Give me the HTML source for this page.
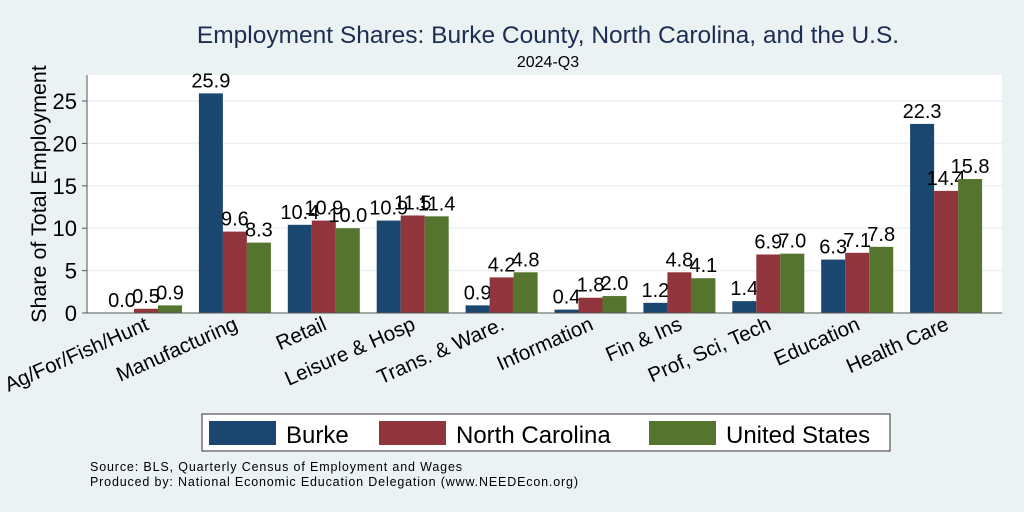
<!DOCTYPE html>
<html><head><meta charset="utf-8"><style>body{margin:0;background:#eaf2f3}svg{display:block;font-family:"Liberation Sans",sans-serif}</style></head>
<body>
<svg width="1024" height="512">
<rect width="1024" height="512" fill="#eaf2f3"/>
<rect x="87" y="75" width="915" height="238" fill="#fff"/>
<text x="548" y="43" text-anchor="middle" font-size="24.5" fill="#1e2d53">Employment Shares: Burke County, North Carolina, and the U.S.</text>
<text x="548" y="67" text-anchor="middle" font-size="16" fill="#000">2024-Q3</text>
<text transform="translate(46,194) rotate(-90)" text-anchor="middle" font-size="21.5">Share of Total Employment</text>
<g id="g"></g>
<g>
<rect x="202" y="414" width="688" height="37" fill="#fff" stroke="#333" stroke-width="1"/>
<rect x="209" y="421" width="67" height="24" fill="#1a476f"/>
<text x="286" y="443" font-size="24">Burke</text>
<rect x="379" y="421" width="67" height="24" fill="#90353b"/>
<text x="456" y="443" font-size="24">North Carolina</text>
<rect x="649" y="421" width="67" height="24" fill="#55752f"/>
<text x="726" y="443" font-size="24">United States</text>
</g>
<text x="90" y="471" font-size="12.5" textLength="372">Source: BLS, Quarterly Census of Employment and Wages</text>
<text x="90" y="486" font-size="12.5" textLength="488">Produced by: National Economic Education Delegation (www.NEEDEcon.org)</text>
</svg>
<script>
const categories=["Ag/For/Fish/Hunt","Manufacturing","Retail","Leisure & Hosp","Trans. & Ware.","Information","Fin & Ins","Prof, Sci, Tech","Education","Health Care"];
const burke=[0.0,25.9,10.4,10.9,0.9,0.4,1.2,1.4,6.3,22.3];
const nc=[0.5,9.6,10.9,11.5,4.2,1.8,4.8,6.9,7.1,14.4];
const us=[0.9,8.3,10.0,11.4,4.8,2.0,4.1,7.0,7.8,15.8];
const yTicks=[0,5,10,15,20,25];
const ns="http://www.w3.org/2000/svg";
const g=document.getElementById('g');
const y=v=>313-v*8.48;
const cx=i=>146+i*88.9;
function mk(t,a){const e=document.createElementNS(ns,t);for(const k in a)e.setAttribute(k,a[k]);g.appendChild(e);return e;}
yTicks.forEach(t=>{
  if(t>0){const l=mk('line',{x1:87,x2:1002,y1:y(t),y2:y(t),stroke:'#eaf2f3','stroke-width':1.5});
  
  }
  const tk=mk('line',{x1:82,x2:87,y1:y(t),y2:y(t),stroke:'#555'});
  
  
  const tx=mk('text',{x:77,y:y(t)+8,'text-anchor':'end','font-size':22});
  tx.textContent=t;
  
  
});
const series=[[burke,'#1a476f','burke'],[nc,'#90353b','nc'],[us,'#55752f','us']];
categories.forEach((c,i)=>{
  series.forEach(([d,col,nm],s)=>{
    const x=cx(i)+(s-1.5)*24;
    const r=mk('rect',{x:x,y:y(d[i]),width:24,height:d[i]*8.48,fill:col});
    
    
    const t=mk('text',{x:x+12,y:y(d[i])-6,'text-anchor':'middle','font-size':20});
    t.textContent=d[i].toFixed(1);
    
    
  });
  const lb=mk('text',{'text-anchor':'end','font-size':20.5,transform:`translate(${cx(i)+4},329) rotate(-24)`});
  lb.textContent=c;
  
  
});
const ax=mk('line',{x1:87,x2:87,y1:75,y2:313,stroke:'#555'});


const bx=mk('line',{x1:87,x2:1002,y1:313,y2:313,stroke:'#555'});


</script>
</body></html>
